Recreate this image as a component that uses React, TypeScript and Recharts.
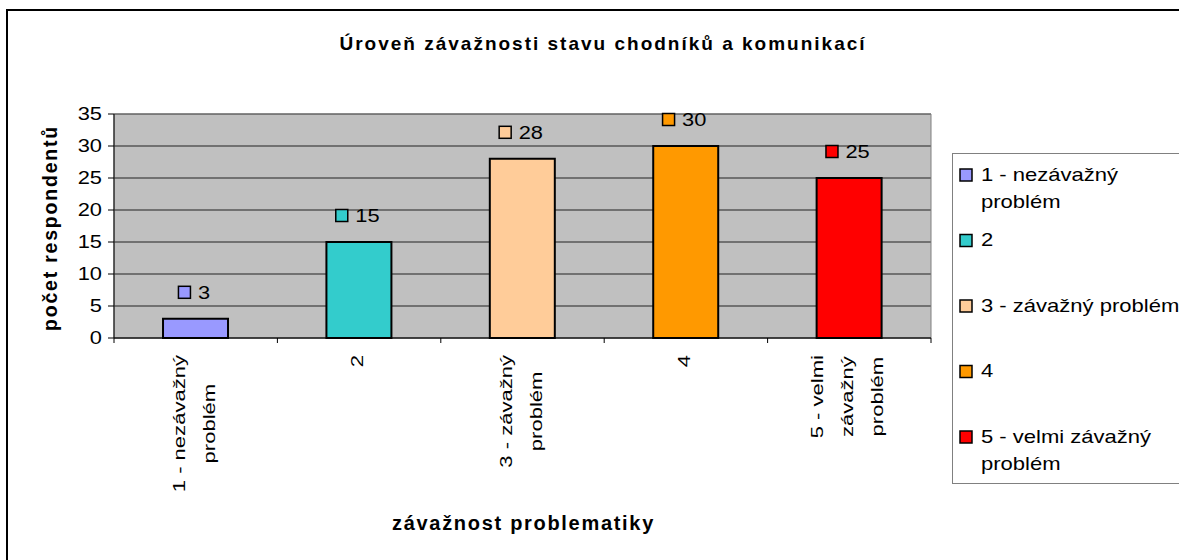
import React from 'react';
import {
  BarChart,
  Bar,
  XAxis,
  YAxis,
  CartesianGrid,
  Cell,
  LabelList,
  Legend,
  ReferenceArea,
  Customized,
} from 'recharts';

// ---- data ----
const categories = ['1 - nezávažný problém', '2', '3 - závažný problém', '4', '5 - velmi závažný problém'];
const respondents = [3, 15, 28, 30, 25];
const barColors = ['#9999FF', '#33CCCC', '#FFCC99', '#FF9900', '#FF0000'];
const tickLines = [['1 - nezávažný', 'problém'], ['2'], ['3 - závažný', 'problém'], ['4'], ['5 - velmi', 'závažný', 'problém']];
const legendLines = [['1 - nezávažný', 'problém'], ['2'], ['3 - závažný problém'], ['4'], ['5 - velmi závažný', 'problém']];
const yTicks = [0, 5, 10, 15, 20, 25, 30, 35];
const chartTitle = 'Úroveň závažnosti stavu chodníků a komunikací';
const yTitle = 'počet respondentů';
const xTitle = 'závažnost problematiky';

const data = categories.map((name, i) => ({ name, value: respondents[i] }));

const FONT = "'Liberation Sans', Arial, Helvetica, sans-serif";

let _ctx: CanvasRenderingContext2D | null = null;
function measure(text: string, px: number, bold = false): number {
  try {
    if (!_ctx) _ctx = document.createElement('canvas').getContext('2d');
    if (_ctx) {
      _ctx.font = `${bold ? 'bold ' : ''}${px}px "Liberation Sans", Arial, sans-serif`;
      return _ctx.measureText(text).width;
    }
  } catch (e) {
    /* ignore */
  }
  return text.length * px * 0.55;
}

type TxtProps = {
  x: number;
  y: number;
  sx?: number;
  sy?: number;
  rot?: number;
  anchor?: 'start' | 'middle' | 'end';
  size: number;
  bold?: boolean;
  ls?: number;
  fill?: string;
  children: React.ReactNode;
};

const STxt = ({ x, y, sx = 1, sy = 1, rot = 0, anchor = 'start', size, bold, ls = 0, fill = '#000', children }: TxtProps) => (
  <text
    transform={`translate(${x},${y}) rotate(${rot}) scale(${sx},${sy})`}
    x={0}
    y={0}
    textAnchor={anchor}
    fontSize={size}
    fontWeight={bold ? 'bold' : 'normal'}
    fontFamily={FONT}
    letterSpacing={ls}
    fill={fill}
  >
    {children}
  </text>
);

const Frame = () => (
  <g>
    <rect x={7} y={10} width={1200} height={600} fill="none" stroke="#000" strokeWidth={2} />
    <STxt x={603} y={50} anchor="middle" size={19} bold ls={2}>
      {chartTitle}
    </STxt>
    <STxt x={56.7} y={228} rot={-90} anchor="middle" size={19.5} bold ls={1.8}>
      {yTitle}
    </STxt>
    <STxt x={523.5} y={530} anchor="middle" size={20} bold ls={1.7}>
      {xTitle}
    </STxt>
  </g>
);

const YTick = (props: any) => {
  const { x, y, payload } = props;
  return (
    <STxt x={Number(x)} y={Number(y) + 5.8} anchor="end" size={19} sx={1.15}>
      {payload.value}
    </STxt>
  );
};

const XTick = (props: any) => {
  const { x, y, payload } = props;
  const idx = typeof props.index === 'number' ? props.index : categories.indexOf(payload.value);
  const half = payload && typeof payload.offset === 'number' && payload.offset > 0 ? payload.offset : 81.7;
  const axisY = Number(y) - 17;
  const lines = tickLines[idx] ?? [String(payload.value)];
  const L = Math.max(...lines.map((l) => measure(l, 21))) * 1.05;
  const midY = Number(y) + L / 2;
  const n = lines.length;
  return (
    <g>
      <line x1={x - half} x2={x - half} y1={axisY} y2={axisY + 5} stroke="#000" />
      {idx === categories.length - 1 && <line x1={x + half} x2={x + half} y1={axisY} y2={axisY + 5} stroke="#000" />}
      {lines.map((ln, i) => (
        <STxt key={i} x={x + (i - (n - 1) / 2) * 30 + 4} y={midY} rot={-90} anchor="middle" size={21} sx={1.05} sy={0.78}>
          {ln}
        </STxt>
      ))}
    </g>
  );
};

const ValueLabel = (props: any) => {
  const { x, y, width, value } = props;
  const idx = typeof props.index === 'number' ? props.index : respondents.indexOf(Number(value));
  const cx = Number(x) + Number(width) / 2;
  const tw = measure(String(value), 19) * 1.15;
  const left = cx - (20 + tw) / 2 - 1;
  const cy = Number(y) - 26.5;
  return (
    <g>
      <rect x={left} y={cy - 6} width={12} height={12} fill={barColors[idx]} stroke="#000" strokeWidth={1.5} />
      <STxt x={left + 19.5} y={cy + 6.8} size={19} sx={1.15}>
        {value}
      </STxt>
    </g>
  );
};

const LegendContent = () => (
  <svg width={227} height={331} style={{ display: 'block' }}>
    <rect x={0.5} y={0.5} width={280} height={330} fill="#fff" stroke="#808080" />
    {legendLines.map((lines, i) => {
      const cy = 22 + i * 65.5;
      return (
        <g key={i}>
          <rect x={8} y={cy - 6} width={12} height={12} fill={barColors[i]} stroke="#000" strokeWidth={1.5} />
          {lines.map((ln, j) => (
            <STxt key={j} x={29} y={cy + 5.5 + j * 27.5} size={19} sx={1.16}>
              {ln}
            </STxt>
          ))}
        </g>
      );
    })}
  </svg>
);

export default function App() {
  return (
    <div
      style={{
        position: 'absolute',
        left: 0,
        top: 0,
        width: 1179,
        height: 560,
        overflow: 'hidden',
        background: '#fff',
      }}
    >
      <BarChart
        width={1179}
        height={560}
        data={data}
        margin={{ top: 114, right: 248, bottom: 72, left: 54 }}
        barCategoryGap="30%"
      >
        <Customized component={Frame} />
        <CartesianGrid vertical={false} fill="#C0C0C0" stroke="#222" strokeWidth={1} />
        <ReferenceArea
          x1={categories[0]}
          x2={categories[categories.length - 1]}
          y1={0}
          y2={35}
          fill="none"
          fillOpacity={0}
          stroke="#808080"
          strokeWidth={1}
          ifOverflow="visible"
        />
        <XAxis
          dataKey="name"
          interval={0}
          height={150}
          axisLine={{ stroke: '#000' }}
          tickLine={false}
          tickSize={5}
          tickMargin={12}
          tick={<XTick />}
        />
        <YAxis
          domain={[0, 35]}
          ticks={yTicks}
          interval={0}
          width={60}
          axisLine={{ stroke: '#000' }}
          tickLine={{ stroke: '#000' }}
          tickSize={6}
          tickMargin={6}
          tick={<YTick />}
        />
        <Legend
          layout="horizontal"
          verticalAlign="middle"
          align="center"
          content={<LegendContent />}
          wrapperStyle={{ position: 'absolute', left: 952, top: 153, width: 227, height: 331, margin: 0 }}
        />
        <Bar dataKey="value" isAnimationActive={false} stroke="#000" strokeWidth={2}>
          {data.map((d, i) => (
            <Cell key={d.name} fill={barColors[i]} />
          ))}
          <LabelList dataKey="value" content={<ValueLabel />} />
        </Bar>
      </BarChart>
    </div>
  );
}
